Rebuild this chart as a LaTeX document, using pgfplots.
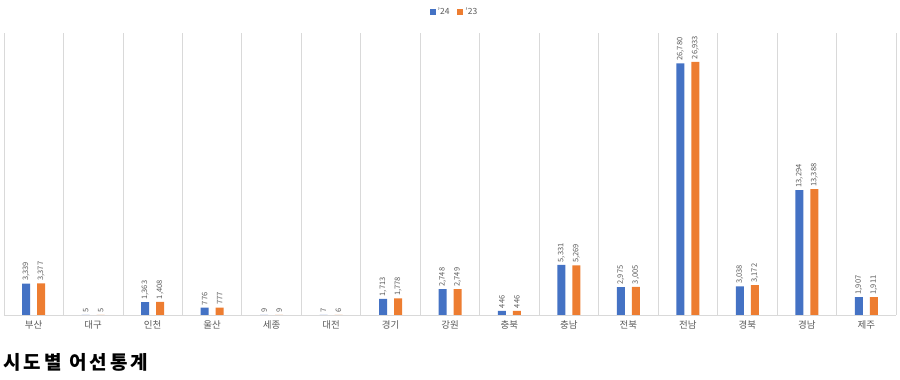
\documentclass[border=0pt]{standalone}
\usepackage{fontspec}
\setmainfont{Noto Sans CJK KR}
\newfontfamily\titlefont[LetterSpace=16]{Noto Sans CJK KR}
\usepackage{pgfplots}
\pgfplotsset{compat=1.18}
\definecolor{sblue}{RGB}{68,114,196}
\definecolor{sorange}{RGB}{237,125,49}
\definecolor{lbl}{RGB}{89,89,89}
\definecolor{gridc}{RGB}{217,217,217}
\begin{document}
\begin{tikzpicture}
\begin{axis}[
  name=main,
  scale only axis, width=892pt, height=282pt,
  ymin=0, ymax=30000, xmin=-0.5, xmax=14.5,
  enlargelimits=false, clip=false,
  ybar=7pt, bar width=8pt,
  axis y line=none,
  axis x line*=bottom,
  x axis line style={draw=gridc, -},
  xtick={0,...,14},
  xticklabels={부산,대구,인천,울산,세종,대전,경기,강원,충북,충남,전북,전남,경북,경남,제주},
  x tick label style={font=\fontsize{9.5}{10}\selectfont, text=lbl, yshift=-2pt},
  major tick length=0pt, minor tick length=0pt,
  minor xtick={-0.5,0.5,...,14.5},
  xminorgrids, minor grid style={draw=gridc, line width=0.8pt},
  /pgf/number format/assume math mode=true,
  /pgf/number format/1000 sep={,},
  nodes near coords,
  every node near coord/.append style={rotate=90, anchor=west, font=\fontsize{7.5}{8}\selectfont, text=lbl, inner sep=2.5pt},
  legend style={draw=none, at={(0.505,1.075)}, anchor=center, legend columns=2,
    font=\fontsize{8.5}{9}\selectfont, text=lbl, /tikz/every even column/.append style={column sep=6pt}},
  legend image code/.code={\fill[#1,draw=none] (0pt,-3pt) rectangle (6pt,3pt);},
]
\addplot[fill=sblue, draw=none] coordinates {
(0,3339) (1,5) (2,1363) (3,776) (4,9) (5,7) (6,1713) (7,2748) (8,446) (9,5331) (10,2975) (11,26780) (12,3038) (13,13294) (14,1907)};
\addplot[fill=sorange, draw=none] coordinates {
(0,3377) (1,5) (2,1408) (3,777) (4,9) (5,6) (6,1778) (7,2749) (8,446) (9,5269) (10,3005) (11,26933) (12,3172) (13,13388) (14,1911)};
\legend{'24,'23}
\end{axis}
\node[anchor=west, inner sep=0pt, font=\fontsize{19}{22}\selectfont\titlefont\bfseries] at ([shift={(-1pt,-47pt)}]main.south west) {시도별 어선통계};
\pgfresetboundingbox
\useasboundingbox ([shift={(-4pt,-65pt)}]main.south west) rectangle ++(900pt,380pt);
\end{tikzpicture}
\end{document}
